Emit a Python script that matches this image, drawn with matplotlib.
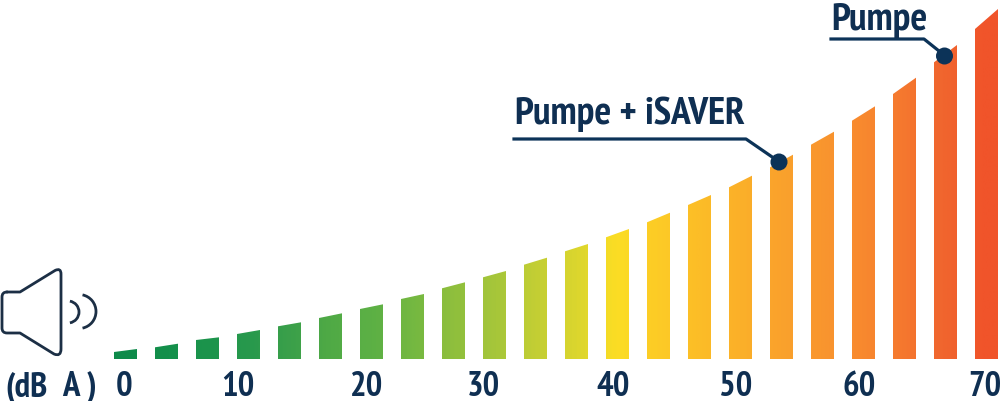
import matplotlib
matplotlib.use("Agg")
import matplotlib.pyplot as plt
import numpy as np
from matplotlib.colors import LinearSegmentedColormap, to_rgb
from matplotlib.patches import Polygon, Arc, Circle, PathPatch
from matplotlib.path import Path

# bar heights, at the left and right end of each slanted top
left_tops = [7, 11.7, 19, 25, 32.7, 41, 50, 60, 70.7, 81.7, 94.3, 107.7, 121.7, 136.7, 154,
             171.7, 191.7, 214.3, 238.3, 265, 296.7, 330]
right_tops = [10, 15.3, 21.7, 29, 36.7, 45.7, 54.7, 65, 76.7, 88, 101.3, 115, 130, 146.3, 164,
              183.3, 204.3, 227.3, 252.7, 281.3, 314, 350]
bar_colors = ["#0e8a4a", "#14904b", "#1c944c", "#28994d", "#3ba04a", "#50aa45", "#5cb045", "#74b841",
              "#8fbf3d", "#a6c63a", "#c2ce34", "#dbd62e", "#fbdd24", "#fdcb26", "#fcbd27", "#fbb029",
              "#faa22c", "#f9962e", "#f8892e", "#f5782f", "#f0652e", "#f0542a"]
tick_labels = ["0", "10", "20", "30", "40", "50", "60", "70"]
tick_px = [124, 238, 367, 483, 613, 736, 859, 985]
unit_parts = ["(dB", "A", ")"]
unit_px = [5, 62, 87]
label_isaver = "Pumpe + iSAVER"
label_pump = "Pumpe"

NAVY = "#0f2f52"
LINE = "#0c3358"
ICON = "#1c2f45"
FONT = ["PT Sans Narrow", "Fira Sans Condensed", "Roboto", "DejaVu Sans"]
PITCH, FIRST, BAR_W, BASE = 41.0, 125.5, 23.0, 360.0

fig = plt.figure(figsize=(10, 4.02), dpi=100, facecolor="white")
ax = fig.add_axes([0, 0, 1, 1])
ax.axis("off")
cmap = LinearSegmentedColormap.from_list("level", [to_rgb(c) for c in bar_colors])

n = len(left_tops)
half = BAR_W / PITCH / 2
for i, (l, r) in enumerate(zip(left_tops, right_tops)):
    x0, x1 = i - half, i + half
    poly = Polygon([(x0, 0), (x0, l), (x1, r), (x1, 0)], closed=True, fc="none", ec="none",
                   transform=ax.transData)
    ax.add_patch(poly)
    # slight horizontal gradient within the bar, following the colour ramp
    g = np.linspace(i - 0.2, i + 0.2, 16).clip(0, n - 1) / (n - 1)
    im = ax.imshow(g[None, :], extent=(x0, x1, 0, max(l, r)), cmap=cmap, vmin=0, vmax=1,
                   aspect="auto", interpolation="bilinear", origin="lower")
    im.set_clip_path(poly)
ax.set_xlim(-FIRST / PITCH, (1000 - FIRST) / PITCH)
ax.set_ylim(BASE - 402, BASE)

# overlay in image coordinates for the icon, callouts and labels
ov = fig.add_axes([0, 0, 1, 1])
ov.set_xlim(0, 1000)
ov.set_ylim(402, 0)
ov.axis("off")
ov.patch.set_alpha(0)

for s, x in zip(tick_labels, tick_px):
    ov.text(x, 396, s, ha="center", va="baseline", color=NAVY, fontsize=25,
            fontweight="bold", family=FONT)
for s, x in zip(unit_parts, unit_px):
    ov.text(x, 396, s, ha="left", va="baseline", color=NAVY, fontsize=25,
            fontweight="bold", family=FONT)
ov.text(515, 124, label_isaver, ha="left", va="baseline", color=NAVY, fontsize=28.4,
        fontweight="bold", family=FONT)
ov.text(831, 30, label_pump, ha="left", va="baseline", color=NAVY, fontsize=28.4,
        fontweight="bold", family=FONT)

# callouts
ov.plot([514, 746, 778], [140, 140, 162], color=LINE, lw=2.3, solid_joinstyle="round")
ov.plot([831, 924, 944], [40, 40, 56], color=LINE, lw=2.3, solid_joinstyle="round")
ov.add_patch(Circle((779, 163), 8.5, fc=LINE, ec="none", zorder=5))
ov.add_patch(Circle((944.5, 57), 8.5, fc=LINE, ec="none", zorder=5))

# speaker icon with rounded corners
M, L, Q = Path.MOVETO, Path.LINETO, Path.CURVE3
verts = [(7, 293), (20, 293), (55, 271.5), (61, 268.5), (61, 275), (61, 350), (61, 358), (54, 355),
         (20, 334), (7, 334), (2, 334), (2, 329), (2, 298), (2, 293), (7, 293)]
codes = [M, L, L, Q, Q, L, Q, Q, L, L, Q, Q, L, Q, Q]
ov.add_patch(PathPatch(Path(verts, codes), fc="none", ec=ICON, lw=2.0,
                       joinstyle="round", capstyle="round"))
ov.add_patch(Arc((68, 313), 22, 22, theta1=-80, theta2=80, ec=ICON, lw=2.0))
ov.add_patch(Arc((79, 312.5), 34, 34, theta1=-78, theta2=78, ec=ICON, lw=2.0))

fig.savefig("out.png", dpi=100, facecolor="white")
